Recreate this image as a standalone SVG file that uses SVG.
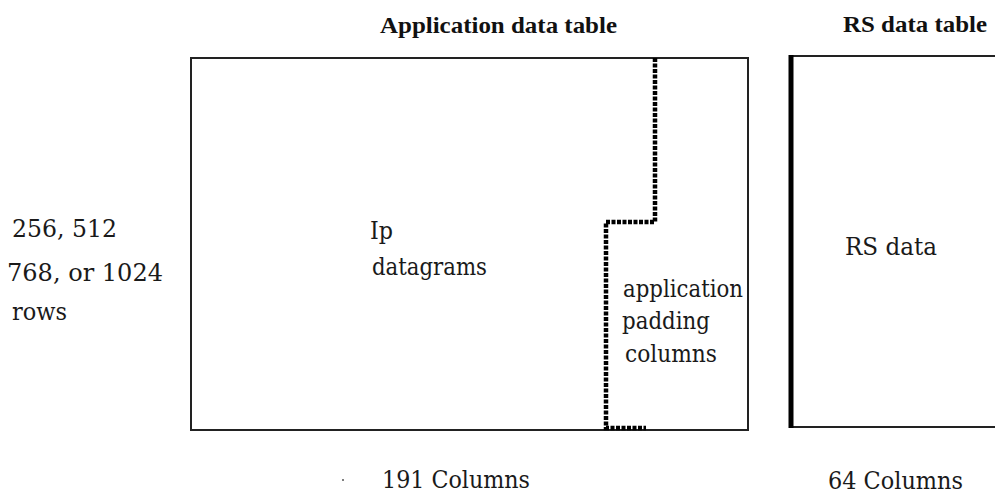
<svg xmlns="http://www.w3.org/2000/svg" width="995" height="494" viewBox="0 0 995 494">
<style>
.t{font-family:"DejaVu Serif","Liberation Serif",serif;font-size:24px;fill:#1a1a1a}
.h{font-family:"Liberation Serif","DejaVu Serif",serif;font-size:23px;font-weight:bold;fill:#111}
.box{fill:none;stroke:#222;stroke-width:2}
.dot{fill:none;stroke:#000;stroke-width:4.5;stroke-dasharray:4 1.5}
</style>
<rect width="995" height="494" fill="#fff"/>
<g id="app-table">
<text class="h" x="380" y="33" textLength="237" lengthAdjust="spacingAndGlyphs">Application data table</text>
<rect class="box" x="191" y="58" width="557" height="372"/>
<text class="t" x="370" y="239" textLength="23" lengthAdjust="spacingAndGlyphs">Ip</text>
<text class="t" x="372" y="275" textLength="115" lengthAdjust="spacingAndGlyphs">datagrams</text>
</g>
<g id="padding">
<polyline class="dot" points="655,58 655,222 606,222 606,428 646,428"/>
<text class="t" x="623" y="297" textLength="120" lengthAdjust="spacingAndGlyphs">application</text>
<text class="t" x="622" y="329" textLength="88" lengthAdjust="spacingAndGlyphs">padding</text>
<text class="t" x="625" y="362" textLength="92" lengthAdjust="spacingAndGlyphs">columns</text>
</g>
<g id="rs-table">
<text class="h" x="843" y="32" textLength="144" lengthAdjust="spacingAndGlyphs">RS data table</text>
<line x1="790" y1="56" x2="995" y2="56" stroke="#222" stroke-width="2"/>
<line x1="790" y1="427" x2="995" y2="427" stroke="#222" stroke-width="2"/>
<line x1="791" y1="55" x2="791" y2="428" stroke="#000" stroke-width="5"/>
<text class="t" x="845" y="255" textLength="92" lengthAdjust="spacingAndGlyphs">RS data</text>
</g>
<g id="rows-label">
<text class="t" x="12" y="237" textLength="105" lengthAdjust="spacingAndGlyphs">256, 512</text>
<text class="t" x="7" y="281" textLength="156" lengthAdjust="spacingAndGlyphs">768, or 1024</text>
<text class="t" x="12" y="320" textLength="55" lengthAdjust="spacingAndGlyphs">rows</text>
</g>
<g id="col-labels">
<circle cx="343" cy="480" r="1" fill="#555"/>
<text class="t" x="382" y="488" textLength="148" lengthAdjust="spacingAndGlyphs">191 Columns</text>
<text class="t" x="828" y="489" textLength="135" lengthAdjust="spacingAndGlyphs">64 Columns</text>
</g>
</svg>
